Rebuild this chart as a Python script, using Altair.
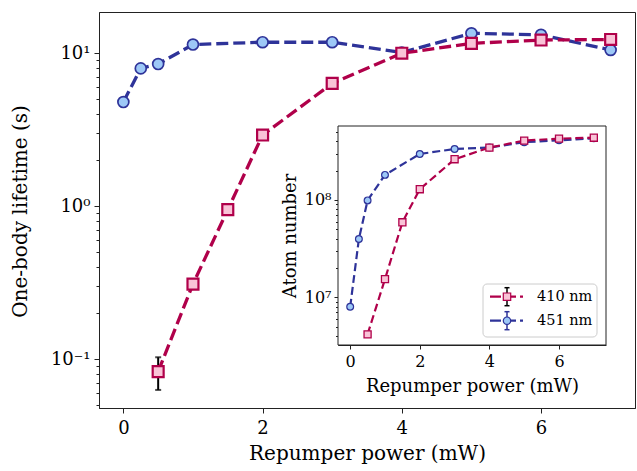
import altair as alt
import pandas as pd

FONT = "DejaVu Serif"

# ---------------- data ----------------
power_410 = [0.5, 1.0, 1.5, 2.0, 3.0, 4.0, 5.0, 6.0, 7.0]
lifetime_410 = [0.083, 0.31, 0.95, 2.92, 6.35, 10.0, 11.6, 12.2, 12.3]
power_451 = [0.0, 0.25, 0.5, 1.0, 2.0, 3.0, 4.0, 5.0, 6.0, 7.0]
lifetime_451 = [4.8, 7.96, 8.5, 11.4, 11.8, 11.8, 10.1, 13.5, 13.2, 10.5]
err_power_410 = [0.5]
err_low_410 = [0.063]
err_high_410 = [0.103]

atoms_410 = [4.17e6, 1.54e7, 5.9e7, 1.29e8, 2.62e8, 3.45e8, 4.07e8, 4.27e8, 4.36e8]
atoms_451 = [8.0e6, 3.97e7, 9.9e7, 1.81e8, 2.97e8, 3.34e8, 3.45e8, 3.92e8, 4.1e8, 4.3e8]

x_ticks = [0, 2, 4, 6]
main_y_ticks = [0.05, 0.06, 0.07, 0.08, 0.09,
                0.1, 0.2, 0.3, 0.4, 0.5, 0.6, 0.7, 0.8, 0.9,
                1, 2, 3, 4, 5, 6, 7, 8, 9, 10]
inset_y_ticks = [4e6, 5e6, 6e6, 7e6, 8e6, 9e6,
                 1e7, 2e7, 3e7, 4e7, 5e7, 6e7, 7e7, 8e7, 9e7,
                 1e8, 2e8, 3e8, 4e8, 5e8]
legend_labels = ["410 nm", "451 nm"]

RED, PINK = "#b0004a", "#f9c3d7"
BLUE, LBLUE = "#2e3399", "#9dc8f7"

# ---------------- geometry (plot-area pixels) ----------------
W, H = 536, 396
IX0, IX1, IY0, IY1 = 239, 507, 114, 333

df410 = pd.DataFrame({"power": power_410, "value": lifetime_410})
df451 = pd.DataFrame({"power": power_451, "value": lifetime_451})
dferr = pd.DataFrame({"power": err_power_410, "lo": err_low_410, "hi": err_high_410})
dfcap = pd.DataFrame({"power": err_power_410 * 2, "value": err_low_410 + err_high_410})
dfi410 = pd.DataFrame({"power": power_410, "value": atoms_410})
dfi451 = pd.DataFrame({"power": power_451, "value": atoms_451})
one = pd.DataFrame({"a": [0]})

main_x_scale = alt.Scale(domain=[-0.35, 7.35], nice=False, zero=False)
main_y_scale = alt.Scale(type="log", domain=[0.048, 18.6], nice=False)

main_x_axis = alt.Axis(values=x_ticks, title="Repumper power (mW)", labelFontSize=18,
                       titleFontSize=20, tickSize=5, labelPadding=6, titleY=51,
                       titleBaseline="alphabetic", grid=False, labelFlush=False)
main_lab = ("datum.value == 0.1 ? '10\u207b\u00b9' : datum.value == 1 ? '10\u2070' : "
            "datum.value == 10 ? '10\u00b9' : ''")
major_main = "datum.value == 0.1 || datum.value == 1 || datum.value == 10"
main_y_axis = alt.Axis(values=main_y_ticks, labelExpr=main_lab, title="One-body lifetime (s)",
                       labelFontSize=18, titleFontSize=20,
                       tickSize={"condition": {"test": major_main, "value": 5}, "value": 3},
                       labelPadding=4, labelOverlap=False, titleX=-72.5, titleY=199,
                       titleAngle=270, titleAlign="center", titleBaseline="alphabetic",
                       grid=False)


def mx(field="power"):
    return alt.X(f"{field}:Q", scale=main_x_scale, axis=main_x_axis, title="Repumper power (mW)")


def my(field="value"):
    return alt.Y(f"{field}:Q", scale=main_y_scale, axis=main_y_axis, title="One-body lifetime (s)")


m_line451 = alt.Chart(df451).mark_line(color=BLUE, strokeWidth=3.3, strokeDash=[12, 5]).encode(x=mx(), y=my())
m_pts451 = alt.Chart(df451).mark_point(shape="circle", filled=True, fill=LBLUE, stroke=BLUE,
                                       strokeWidth=1.7, size=120, opacity=1).encode(x=mx(), y=my())
m_err = alt.Chart(dferr).mark_rule(color="black", strokeWidth=2).encode(x=mx(), y=my("lo"), y2="hi:Q")
m_cap = alt.Chart(dfcap).mark_tick(orient="horizontal", size=6, thickness=2, color="black").encode(x=mx(), y=my())
m_line410 = alt.Chart(df410).mark_line(color=RED, strokeWidth=3.3, strokeDash=[12, 5]).encode(x=mx(), y=my())
m_pts410 = alt.Chart(df410).mark_point(shape="square", filled=True, fill=PINK, stroke=RED,
                                       strokeWidth=2.2, size=120, opacity=1).encode(x=mx(), y=my())

main = alt.layer(m_line451, m_pts451, m_err, m_cap, m_line410, m_pts410)

# ---------------- inset ----------------
in_x_scale = alt.Scale(domain=[-0.35, 7.35], range=[IX0, IX1], nice=False, zero=False)
in_y_scale = alt.Scale(type="log", domain=[3.24e6, 5.75e8], range=[IY1, IY0], nice=False)
in_x_axis = alt.Axis(orient="bottom", offset=-(H - IY1), values=x_ticks, title="Repumper power (mW)",
                     labelFontSize=16, titleFontSize=18, tickSize=4, labelPadding=4,
                     titleX=(IX0 + IX1) / 2, titleY=46, titleBaseline="alphabetic", grid=False,
                     labelFlush=False)
in_lab = "datum.value == 10000000 ? '10\u2077' : datum.value == 100000000 ? '10\u2078' : ''"
major_in = "datum.value == 10000000 || datum.value == 100000000"
in_y_axis = alt.Axis(orient="left", offset=-IX0, values=inset_y_ticks, labelExpr=in_lab,
                     title="Atom number", labelFontSize=16, titleFontSize=18,
                     tickSize={"condition": {"test": major_in, "value": 4}, "value": 2.5},
                     labelPadding=3, labelOverlap=False, titleX=-43, titleY=(IY0 + IY1) / 2,
                     titleAngle=270, titleAlign="center", titleBaseline="alphabetic", grid=False)


def ix():
    return alt.X("power:Q", scale=in_x_scale, axis=in_x_axis, title="Repumper power (mW)")


def iy():
    return alt.Y("value:Q", scale=in_y_scale, axis=in_y_axis, title="Atom number")


frame = alt.Chart(one).mark_rect(fill="white", stroke="#222", strokeWidth=1).encode(
    x=alt.value(IX0), x2=alt.value(IX1), y=alt.value(IY0), y2=alt.value(IY1))
i_line451 = alt.Chart(dfi451).mark_line(color=BLUE, strokeWidth=2.2, strokeDash=[8, 4]).encode(x=ix(), y=iy())
i_pts451 = alt.Chart(dfi451).mark_point(shape="circle", filled=True, fill=LBLUE, stroke=BLUE,
                                        strokeWidth=1.2, size=46, opacity=1).encode(x=ix(), y=iy())
i_line410 = alt.Chart(dfi410).mark_line(color=RED, strokeWidth=2.2, strokeDash=[8, 4]).encode(x=ix(), y=iy())
i_pts410 = alt.Chart(dfi410).mark_point(shape="square", filled=True, fill=PINK, stroke=RED,
                                        strokeWidth=1.3, size=50, opacity=1).encode(x=ix(), y=iy())

legend_layers = [
    alt.Chart(one).mark_rect(fill="white", fillOpacity=0.85, stroke="#cccccc", strokeWidth=1,
                             cornerRadius=4).encode(
        x=alt.value(384), x2=alt.value(498), y=alt.value(272), y2=alt.value(325))
]
entries = [(legend_labels[0], RED, PINK, "square", "black", 284.7),
           (legend_labels[1], BLUE, LBLUE, "circle", BLUE, 308.7)]
for lab, col, fil, shp, ecol, yy in entries:
    legend_layers += [
        alt.Chart(one).mark_rule(color=col, strokeWidth=2.2, strokeDash=[11, 4]).encode(
            x=alt.value(391), x2=alt.value(424), y=alt.value(yy)),
        alt.Chart(one).mark_rule(color=ecol, strokeWidth=1.5).encode(
            x=alt.value(408), y=alt.value(yy - 9), y2=alt.value(yy + 9)),
        alt.Chart(one).mark_rule(color=ecol, strokeWidth=1.5).encode(
            x=alt.value(405.5), x2=alt.value(410.5), y=alt.value(yy - 9)),
        alt.Chart(one).mark_rule(color=ecol, strokeWidth=1.5).encode(
            x=alt.value(405.5), x2=alt.value(410.5), y=alt.value(yy + 9)),
        alt.Chart(one).mark_point(shape=shp, filled=True, fill=fil, stroke=col, strokeWidth=1.2,
                                  size=55, opacity=1).encode(x=alt.value(408), y=alt.value(yy)),
        alt.Chart(one).mark_text(align="left", baseline="middle", font=FONT, fontSize=14.5,
                                 color="black").encode(
            x=alt.value(438), y=alt.value(yy), text=alt.value(lab)),
    ]

inset = alt.layer(frame, i_line451, i_pts451, i_line410, i_pts410, *legend_layers)

chart = alt.layer(main, inset).resolve_scale(x="independent", y="independent").properties(
    width=W, height=H,
    autosize=alt.AutoSizeParams(type="none"),
    padding={"left": 99, "top": 12, "right": 2, "bottom": 63},
).configure_view(stroke="#222", strokeWidth=1).configure_axis(
    labelFont=FONT, titleFont=FONT, labelColor="black", titleColor="black",
    domainColor="#222", tickColor="#222", titleFontWeight="normal", grid=False,
    domainWidth=1, tickWidth=1,
)

chart.save("out.html", embed_options={"renderer": "svg", "actions": False})
